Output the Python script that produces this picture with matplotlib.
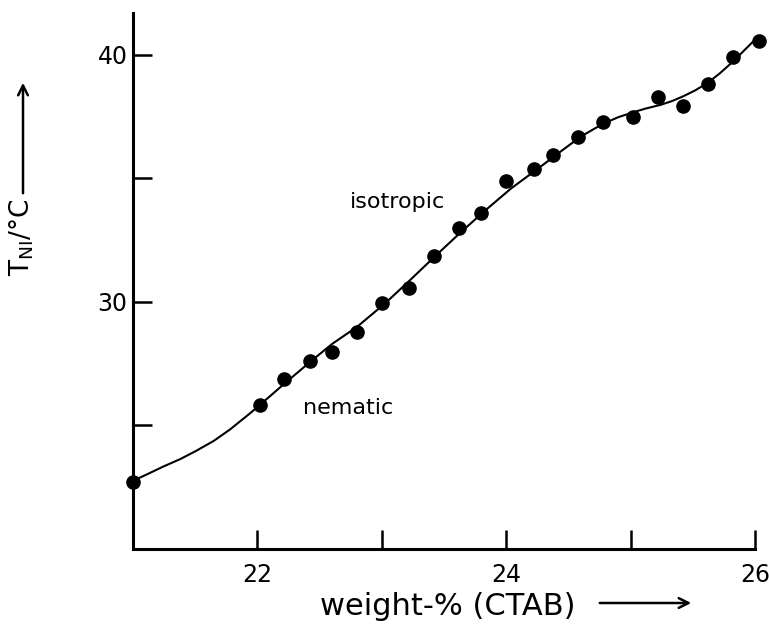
import matplotlib
matplotlib.use("Agg")
import matplotlib.pyplot as plt

# measured points
wt = [21.0, 22.02, 22.21, 22.42, 22.6, 22.8, 23.0, 23.22, 23.42, 23.62, 23.8,
      24.0, 24.22, 24.38, 24.58, 24.78, 25.02, 25.22, 25.42, 25.62, 25.82, 26.03]
T_ni = [22.7, 25.83, 26.88, 27.6, 27.97, 28.8, 29.96, 30.55, 31.86, 33.0, 33.6,
        34.9, 35.38, 35.95, 36.7, 37.3, 37.5, 38.3, 37.93, 38.83, 39.9, 40.57]

# smooth curve drawn through the data
curve_x = [21.0, 21.12, 21.24, 21.38, 21.51, 21.65, 21.78, 21.94, 22.02, 22.2, 22.43,
           22.6, 22.8, 23.03, 23.23, 23.43, 23.63, 23.83, 24.04, 24.25, 24.44, 24.6,
           24.78, 24.9, 25.02, 25.12, 25.24, 25.33, 25.42, 25.52, 25.62, 25.72,
           25.82, 25.9, 25.98]
curve_y = [22.76, 23.04, 23.33, 23.64, 23.98, 24.38, 24.84, 25.49, 25.83, 26.62, 27.6,
           28.3, 28.99, 29.96, 30.9, 31.86, 32.8, 33.7, 34.6, 35.38, 36.1, 36.7,
           37.22, 37.48, 37.68, 37.83, 37.98, 38.13, 38.32, 38.57, 38.87, 39.27,
           39.72, 40.12, 40.52]

x_ticks = [22, 23, 24, 25, 26]
x_ticklabels = ["22", "", "24", "", "26"]
y_ticks = [25, 30, 35, 40]
y_ticklabels = ["", "30", "", "40"]

fig = plt.figure(figsize=(7.69, 6.27), dpi=100)
W, H = 769, 627
ax = fig.add_axes([133 / W, 78 / H, 622 / W, 536 / H])

ax.plot(curve_x, curve_y, color="black", lw=1.5, clip_on=False, zorder=2,
        solid_joinstyle="round")
ax.plot(wt, T_ni, "o", color="black", ms=9.5, clip_on=False, zorder=3)

ax.set_xlim(21.0, 26.0)
ax.set_ylim(20.0, 41.7)

for s in ["top", "right"]:
    ax.spines[s].set_visible(False)
for s in ["left", "bottom"]:
    ax.spines[s].set_linewidth(2.2)

ax.set_xticks(x_ticks)
ax.set_xticklabels(x_ticklabels)
ax.set_yticks(y_ticks)
ax.set_yticklabels(y_ticklabels)
ax.tick_params(axis="both", direction="in", length=14, width=1.8, labelsize=17)
ax.tick_params(axis="x", pad=10)
ax.tick_params(axis="y", pad=4)

ax.text(22.74, 33.8, "isotropic", fontsize=16, ha="left", va="baseline")
ax.text(22.37, 25.47, "nematic", fontsize=16, ha="left", va="baseline")

# x label with arrow
fig.text(320 / W, 1 - 615 / H, "weight-% (CTAB)", fontsize=22, ha="left", va="baseline")
ax.annotate("", xy=(694, H - 603), xytext=(597, H - 603), xycoords="figure pixels",
            textcoords="figure pixels",
            arrowprops=dict(arrowstyle="->,head_length=0.7,head_width=0.35", lw=1.8, color="black"))

# y label with arrow
fig.text(22 / W, 1 - 237 / H, r"T$_{\mathregular{NI}}$/°C", fontsize=19, rotation=90,
         ha="center", va="center")
ax.annotate("", xy=(23, H - 80), xytext=(23, H - 196), xycoords="figure pixels",
            textcoords="figure pixels",
            arrowprops=dict(arrowstyle="->,head_length=0.7,head_width=0.35", lw=1.8, color="black"))

fig.savefig("out.png", dpi=100)
